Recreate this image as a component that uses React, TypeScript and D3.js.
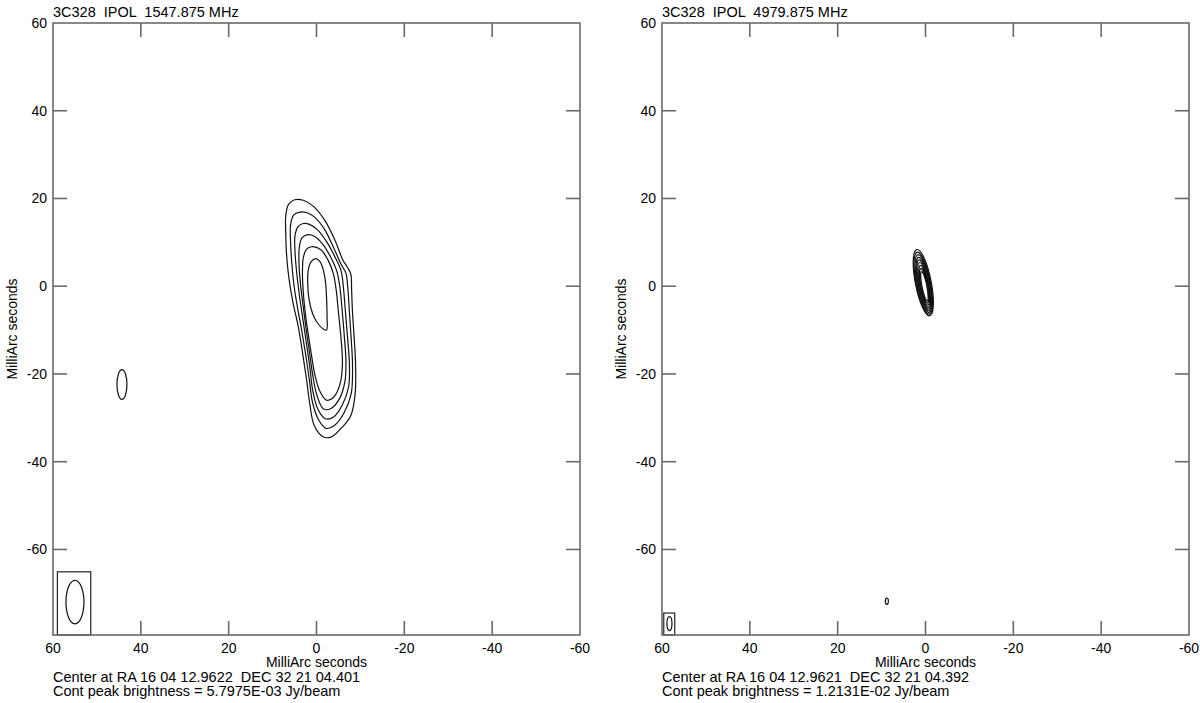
import React from "react";
import * as d3 from "d3";

// ---------- data ----------
const xTickValues = [60, 40, 20, 0, -20, -40, -60];
const yTickValues = [60, 40, 20, 0, -20, -40, -60];
const xDomain: [number, number] = [60, -60];
const yDomain: [number, number] = [-79.5, 60];

const panelTitles = ["3C328  IPOL  1547.875 MHz", "3C328  IPOL  4979.875 MHz"];
const centerLines = [
  "Center at RA 16 04 12.9622  DEC 32 21 04.401",
  "Center at RA 16 04 12.9621  DEC 32 21 04.392",
];
const peakLines = [
  "Cont peak brightness = 5.7975E-03 Jy/beam",
  "Cont peak brightness = 1.2131E-02 Jy/beam",
];
const axisLabel = "MilliArc seconds";

// left map contours (mas), outer -> inner
const leftContour1: [number, number][] = [
  [5.0, 19.7], [6.4, 18.6], [7.0, 16.0], [7.0, 12.0], [6.8, 7.0], [6.3, 2.0], [5.4, -3.5],
  [4.2, -9.0], [3.2, -15.0], [2.3, -21.0], [1.5, -27.0], [0.5, -31.8], [-1.5, -34.3],
  [-3.3, -34.4], [-5.4, -32.6], [-7.8, -29.5], [-8.8, -24.5], [-8.9, -18.0], [-8.6, -12.0],
  [-8.2, -6.0], [-8.0, -1.0], [-7.8, 2.8], [-7.0, 4.4], [-6.0, 6.0], [-4.2, 10.5],
  [-1.9, 15.0], [0.7, 18.2], [3.0, 19.6],
];
const leftContour2: [number, number][] = [
  [3.8, 16.9], [5.2, 16.2], [5.9, 14.0], [5.9, 10.0], [5.6, 5.0], [5.1, 0.0], [4.3, -5.0],
  [3.3, -10.5], [2.4, -16.0], [1.6, -21.5], [0.9, -26.5], [-0.5, -30.5], [-2.2, -32.4],
  [-4.0, -31.8], [-6.2, -29.0], [-7.9, -24.5], [-8.2, -18.0], [-7.9, -12.0], [-7.5, -6.0],
  [-7.1, 0.0], [-6.7, 3.0], [-5.6, 5.0], [-3.8, 9.0], [-1.8, 13.0], [0.5, 15.8], [2.3, 16.8],
];
const leftContour3: [number, number][] = [
  [3.0, 14.3], [4.2, 13.6], [4.9, 11.5], [4.9, 8.0], [4.5, 3.0], [3.9, -2.0], [3.1, -7.5],
  [2.3, -13.0], [1.5, -18.5], [0.9, -23.5], [-0.3, -28.0], [-2.0, -30.2], [-3.9, -29.8],
  [-5.9, -27.0], [-7.3, -23.0], [-7.5, -18.0], [-7.1, -12.0], [-6.6, -6.0], [-6.1, 0.0],
  [-5.6, 3.5], [-4.3, 6.5], [-2.4, 10.0], [-0.3, 12.8], [1.6, 14.1],
];
const leftContour4: [number, number][] = [
  [2.2, 11.7], [3.3, 11.0], [3.9, 9.0], [4.0, 5.5], [3.7, 1.0], [3.1, -4.0], [2.4, -9.5],
  [1.6, -15.0], [0.9, -20.0], [0.0, -24.5], [-1.6, -28.0], [-3.4, -27.8], [-5.3, -25.5],
  [-6.5, -21.5], [-6.7, -17.0], [-6.3, -11.0], [-5.8, -5.0], [-5.3, 0.0], [-4.6, 3.5],
  [-3.3, 6.5], [-1.5, 9.5], [0.5, 11.4],
];
const leftContour5: [number, number][] = [
  [1.1, 9.0], [2.3, 8.4], [3.0, 6.5], [3.2, 3.0], [3.0, -1.5], [2.5, -6.5], [1.8, -11.5],
  [1.1, -16.0], [0.3, -20.5], [-0.8, -24.0], [-2.3, -26.0], [-3.9, -25.3], [-5.3, -22.5],
  [-5.9, -18.0], [-5.6, -12.0], [-5.0, -6.0], [-4.5, -1.0], [-3.8, 3.0], [-2.6, 6.0], [-1.0, 8.3],
];
const leftContour6: [number, number][] = [
  [0.1, 6.3], [1.2, 5.6], [1.9, 3.5], [2.0, 0.5], [1.7, -3.0], [0.9, -6.2], [-0.3, -8.5],
  [-1.6, -9.8], [-2.3, -10.0], [-2.4, -7.0], [-2.3, -3.0], [-2.1, 0.5], [-1.6, 3.5], [-0.8, 5.6],
];
const leftContours = [leftContour1, leftContour2, leftContour3, leftContour4, leftContour5, leftContour6];

// isolated small contours: [cx, cy, rx, ry, rotationDeg] (mas)
const leftIslands: [number, number, number, number, number][] = [[44.3, -22.4, 1.14, 3.4, 0]];
const rightIslands: [number, number, number, number, number][] = [[8.8, -71.8, 0.35, 0.7, 0]];

// right map contours as ellipses: [cx, cy, semiMinor(x), semiMajor(y), rotationDeg]
const rightContours: [number, number, number, number, number][] = [
  [0.5, 0.8, 1.8, 7.7, -11],
  [0.5, 0.7, 1.62, 7.2, -11],
  [0.45, 0.6, 1.46, 6.7, -11],
  [0.4, 0.5, 1.3, 6.2, -11],
  [0.4, 0.4, 1.15, 5.7, -11],
  [0.35, 0.3, 1.0, 5.2, -11],
  [0.3, 0.2, 0.86, 4.6, -11],
  [0.3, 0.1, 0.72, 4.0, -11],
  [0.25, 0.0, 0.56, 3.4, -11],
];

// beams: ellipse [cx, cy, rx, ry] and box [xLeft, xRight, yTop, yBottom]
const leftBeam = { ellipse: [55.0, -72.0, 2.05, 4.95], box: [59.0, 51.4, -65.1, -79.5] };
const rightBeam = { ellipse: [58.3, -76.9, 0.57, 1.6], box: [59.6, 57.1, -74.5, -79.5] };

// ---------- layout ----------
const W = 1200;
const H = 703;
const plotTop = 23;
const plotBottom = 635;
const panels = [
  { x0: 53, x1: 580 },
  { x0: 662, x1: 1189 },
];
const FONT = "'Liberation Sans', Arial, Helvetica, sans-serif";
const AXIS_COLOR = "#6a6a6a";
const TICK_LEN = 14;

// keep runs of spaces visible in SVG text
const keepSpaces = (s: string) => s.replace(/ {2}/g, " \u00a0");

function Panel({ idx }: { idx: number }) {
  const { x0, x1 } = panels[idx];
  const x = d3.scaleLinear().domain(xDomain).range([x0, x1]);
  const y = d3.scaleLinear().domain(yDomain).range([plotBottom, plotTop]);
  const line = d3
    .line<[number, number]>()
    .x((d) => x(d[0]))
    .y((d) => y(d[1]))
    .curve(d3.curveCatmullRomClosed.alpha(0.5));

  const sx = (v: number) => Math.abs(x(v) - x(0));
  const sy = (v: number) => Math.abs(y(v) - y(0));

  const innerX = xTickValues.filter((t) => t !== xDomain[0] && t !== xDomain[1]);
  const innerY = yTickValues.filter((t) => t < 60);

  const beam = idx === 0 ? leftBeam : rightBeam;
  const islands = idx === 0 ? leftIslands : rightIslands;
  const cx = (x0 + x1) / 2;
  const cy = (plotTop + plotBottom) / 2;

  return (
    <g>
      <g fill="none" stroke="#111" strokeWidth={1.2}>
        {idx === 0 &&
          leftContours.map((c, i) => <path key={i} d={line(c) || ""} />)}
        {idx === 1 &&
          rightContours.map((c, i) => (
            <ellipse
              key={i}
              cx={x(c[0])}
              cy={y(c[1])}
              rx={sx(c[2])}
              ry={sy(c[3])}
              transform={`rotate(${c[4]} ${x(c[0])} ${y(c[1])})`}
            />
          ))}
        {islands.map((c, i) => (
          <ellipse
            key={"is" + i}
            cx={x(c[0])}
            cy={y(c[1])}
            rx={sx(c[2])}
            ry={sy(c[3])}
            transform={`rotate(${c[4]} ${x(c[0])} ${y(c[1])})`}
          />
        ))}
        <ellipse
          cx={x(beam.ellipse[0])}
          cy={y(beam.ellipse[1])}
          rx={sx(beam.ellipse[2])}
          ry={sy(beam.ellipse[3])}
        />
        <rect
          x={x(beam.box[0])}
          y={y(beam.box[2])}
          width={x(beam.box[1]) - x(beam.box[0])}
          height={y(beam.box[3]) - y(beam.box[2])}
          stroke="#222"
        />
      </g>

      <rect
        x={x0}
        y={plotTop}
        width={x1 - x0}
        height={plotBottom - plotTop}
        fill="none"
        stroke={AXIS_COLOR}
        strokeWidth={1.6}
      />
      <g stroke={AXIS_COLOR} strokeWidth={1.6}>
        {innerX.map((t) => (
          <g key={"xt" + t}>
            <line x1={x(t)} x2={x(t)} y1={plotTop} y2={plotTop + TICK_LEN} />
            <line x1={x(t)} x2={x(t)} y1={plotBottom} y2={plotBottom - TICK_LEN} />
          </g>
        ))}
        {innerY.map((t) => (
          <g key={"yt" + t}>
            <line x1={x0} x2={x0 + TICK_LEN} y1={y(t)} y2={y(t)} />
            <line x1={x1} x2={x1 - TICK_LEN} y1={y(t)} y2={y(t)} />
          </g>
        ))}
      </g>

      <g fontFamily={FONT} fontSize={14} fill="#000">
        {xTickValues.map((t) => (
          <text key={"xl" + t} x={x(t)} y={653} textAnchor="middle">
            {t}
          </text>
        ))}
        {yTickValues.map((t) => (
          <text key={"yl" + t} x={x0 - 6} y={y(t) + 5} textAnchor="end">
            {t}
          </text>
        ))}
        <text x={cx} y={667} textAnchor="middle">
          {axisLabel}
        </text>
        <text
          x={0}
          y={0}
          textAnchor="middle"
          transform={`translate(${x0 - 36} ${cy}) rotate(-90)`}
        >
          {axisLabel}
        </text>
      </g>

      <g fontFamily={FONT} fill="#000">
        <text x={x0} y={17} fontSize={14.5}>
          {keepSpaces(panelTitles[idx])}
        </text>
        <text x={x0} y={682} fontSize={14.5}>
          {keepSpaces(centerLines[idx])}
        </text>
        <text x={x0} y={696} fontSize={14.5}>
          {keepSpaces(peakLines[idx])}
        </text>
      </g>
    </g>
  );
}

export default function App() {
  return (
    <svg
      width={W}
      height={H}
      viewBox={`0 0 ${W} ${H}`}
      style={{ position: "absolute", left: 0, top: 0, background: "#fff" }}
    >
      <rect x={0} y={0} width={W} height={H} fill="#fff" />
      <Panel idx={0} />
      <Panel idx={1} />
    </svg>
  );
}
